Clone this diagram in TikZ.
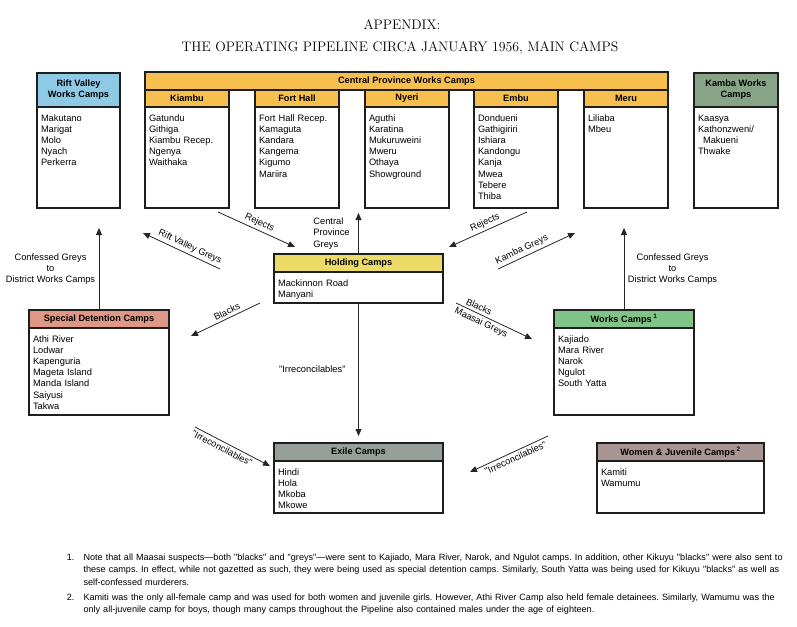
\documentclass[tikz,border=0pt]{standalone}
\usepackage{fontspec}
\newfontfamily\arialfont{Liberation Sans}
\usepackage{tikz}
\usetikzlibrary{arrows.meta,positioning}
\definecolor{RVblue}{HTML}{8EC9E6}
\definecolor{CPorange}{HTML}{F7BF4E}
\definecolor{KAgreen}{HTML}{87A487}
\definecolor{HOyellow}{HTML}{EDDB68}
\definecolor{SDsalmon}{HTML}{DF9885}
\definecolor{WCgreen}{HTML}{80C587}
\definecolor{EXgrey}{HTML}{979F9A}
\definecolor{WJmauve}{HTML}{A89493}
\definecolor{edge}{HTML}{1E1E1E}
\frenchspacing
\tikzset{
  camp/head/.style={draw=edge, line width=1.2pt, inner sep=0pt, outer sep=0pt, anchor=north west, align=center, font=\arialfont\bfseries\fontsize{9.2}{11}\selectfont},
  camp/body/.style={draw=edge, line width=1.2pt, fill=white, inner sep=4pt, outer sep=0pt, align=left, text height=10pt, font=\arialfont\fontsize{9.3}{11.2}\selectfont},
  camp/flow/.style={line width=0.8pt, draw=black!85, -{Triangle[length=7pt,width=6pt]}},
  camp/tag/.style={font=\arialfont\fontsize{9.3}{11.2}\selectfont, inner sep=2.5pt},
  camp/note/.style={font=\arialfont\fontsize{9.1}{12.8}\selectfont, inner sep=0pt, anchor=base west, align=left, text width=730pt},
  camp/title/.style={font=\fontsize{13.8}{16}\selectfont, inner sep=0pt}
}
\begin{document}
\begin{tikzpicture}[x=1pt, y=-1pt]
\useasboundingbox (0,0) rectangle (797,626);

\node[camp/title] (app) at (402,25) {APPENDIX:};
\node[camp/title] (ttl) at (400,48) {THE OPERATING PIPELINE CIRCA JANUARY \oldstylenums{1956}, MAIN CAMPS};

\node[camp/head, fill=RVblue, minimum width=83pt, minimum height=34pt] (rvh) at (37,73) {Rift Valley\\Works Camps};
\node[camp/body, below=0pt of rvh, text width=75pt, text depth=83pt] (rv) {Makutano\\Marigat\\Molo\\Nyach\\Perkerra};

\node[camp/head, fill=CPorange, minimum width=523pt, minimum height=18pt] (cph) at (145,72) {Central Province Works Camps};
\node[camp/head, fill=CPorange, minimum width=84pt, minimum height=17pt] (kih) at (145,90) {Kiambu};
\node[camp/head, fill=CPorange, minimum width=84pt, minimum height=17pt] (fhh) at (255,90) {Fort Hall};
\node[camp/head, fill=CPorange, minimum width=84pt, minimum height=17pt] (nyh) at (365,90) {Nyeri};
\node[camp/head, fill=CPorange, minimum width=84pt, minimum height=17pt] (emh) at (474,90) {Embu};
\node[camp/head, fill=CPorange, minimum width=84pt, minimum height=17pt] (meh) at (584,90) {Meru};
\node[camp/body, below=0pt of kih, text width=76pt, text depth=83pt] (ki) {Gatundu\\Githiga\\Kiambu Recep.\\Ngenya\\Waithaka};
\node[camp/body, below=0pt of fhh, text width=76pt, text depth=83pt] (fh) {Fort Hall Recep.\\Kamaguta\\Kandara\\Kangema\\Kigumo\\Mariira};
\node[camp/body, below=0pt of nyh, text width=76pt, text depth=83pt] (ny) {Aguthi\\Karatina\\Mukuruweini\\Mweru\\Othaya\\Showground};
\node[camp/body, below=0pt of emh, text width=76pt, text depth=83pt] (em) {Dondueni\\Gathigiriri\\Ishiara\\Kandongu\\Kanja\\Mwea\\Tebere\\Thiba};
\node[camp/body, below=0pt of meh, text width=76pt, text depth=83pt] (me) {Liliaba\\Mbeu};

\node[camp/head, fill=KAgreen, minimum width=84pt, minimum height=34pt] (kah) at (694,73) {Kamba Works\\Camps};
\node[camp/body, below=0pt of kah, text width=76pt, text depth=83pt] (ka) {Kaasya\\Kathonzweni/\\\hspace*{5pt}Makueni\\Thwake};

\node[camp/head, fill=HOyellow, minimum width=169pt, minimum height=18pt] (hoh) at (274,254) {Holding Camps};
\node[camp/body, below=0pt of hoh, text width=161pt, text depth=13pt] (ho) {Mackinnon Road\\Manyani};

\node[camp/head, fill=SDsalmon, minimum width=140pt, minimum height=18pt] (sdh) at (29,310) {Special Detention Camps};
\node[camp/body, below=0pt of sdh, text width=132pt, text depth=69pt] (sd) {Athi River\\Lodwar\\Kapenguria\\Mageta Island\\Manda Island\\Saiyusi\\Takwa};

\node[camp/head, fill=WCgreen, minimum width=140pt, minimum height=18pt] (wch) at (554,310) {Works Camps\,\textsuperscript{1}};
\node[camp/body, below=0pt of wch, text width=132pt, text depth=69pt] (wc) {Kajiado\\Mara River\\Narok\\Ngulot\\South Yatta};

\node[camp/head, fill=EXgrey, minimum width=169pt, minimum height=18pt] (exh) at (274,443) {Exile Camps};
\node[camp/body, below=0pt of exh, text width=161pt, text depth=34pt] (ex) {Hindi\\Hola\\Mkoba\\Mkowe};

\node[camp/head, fill=WJmauve, minimum width=167pt, minimum height=18pt] (wjh) at (597,443) {Women \& Juvenile Camps\,\textsuperscript{2}};
\node[camp/body, below=0pt of wjh, text width=159pt, text depth=34pt] (wj) {Kamiti\\Wamumu};

\coordinate (rejLs) at (218,212);
\coordinate (rejLe) at (295,247);
\coordinate (rejRs) at (527,212);
\coordinate (rejRe) at (449,247);
\coordinate (kagS) at (498,269);
\coordinate (kagE) at (575,233);
\coordinate (rvgS) at (220,269);
\coordinate (rvgE) at (143,233);
\coordinate (blkLs) at (260,303);
\coordinate (blkLe) at (191,336);
\coordinate (blkRs) at (456,303);
\coordinate (blkRe) at (532,339);
\coordinate (irrLs) at (195,427);
\coordinate (irrLe) at (270,466);
\coordinate (irrRs) at (548,436);
\coordinate (irrRe) at (470,472);
\coordinate (cpgE) at (358.5,213);
\coordinate (cgLe) at (99,228);
\coordinate (cgRe) at (624,228);
\coordinate (irrE) at (358.5,436);

\draw[camp/flow] (rejLs) -- node[camp/tag, sloped, above, pos=.5] (rejLt) {Rejects} (rejLe);
\draw[camp/flow] (rejRs) -- node[camp/tag, sloped, above, pos=.5] (rejRt) {Rejects} (rejRe);
\draw[camp/flow] (kagS) -- node[camp/tag, sloped, above, pos=.35] (kagt) {Kamba Greys} (kagE);
\draw[camp/flow] (rvgS) -- node[camp/tag, sloped, above, pos=.43] (rvgt) {Rift Valley Greys} (rvgE);
\draw[camp/flow] (blkLs) -- node[camp/tag, sloped, above, pos=.44] (blkLt) {Blacks} (blkLe);
\draw[camp/flow] (blkRs) -- node[camp/tag, sloped, above, pos=.27] (blkRt) {Blacks}
  node[camp/tag, sloped, below, pos=.37] (mgt) {Maasai Greys} (blkRe);
\draw[camp/flow] (irrLs) -- node[camp/tag, sloped, below, pos=.4] (irrLt) {"Irreconcilables"} (irrLe);
\draw[camp/flow] (irrRs) -- node[camp/tag, sloped, below, pos=.45] (irrRt) {"Irreconcilables"} (irrRe);
\draw[camp/flow] (hoh.north) -- node[camp/tag, left=6pt, align=left, pos=.5] (cpgt) {Central\\Province\\Greys} (cpgE);
\draw[camp/flow] (sdh.north) -- node[camp/tag, left=1pt, align=center, pos=.5] (cgLt) {Confessed Greys\\to\\District Works Camps} (cgLe);
\draw[camp/flow] (wch.north) -- node[camp/tag, right=1pt, align=center, pos=.5] (cgRt) {Confessed Greys\\to\\District Works Camps} (cgRe);
\draw[camp/flow] (ho.south) -- node[camp/tag, left=10pt, pos=.5] (irrt) {"Irreconcilables"} (irrE);

\node[camp/note, text width=15pt] (fn1n) at (66.7,560) {1.};
\node[camp/note] (fn1) at (83.3,560) {Note that all Maasai suspects—both "blacks" and "greys"—were sent to Kajiado, Mara River, Narok, and Ngulot camps. In addition, other Kikuyu "blacks" were also sent to\\these camps. In effect, while not gazetted as such, they were being used as special detention camps. Similarly, South Yatta was being used for Kikuyu "blacks" as well as\\self-confessed murderers.};
\node[camp/note, text width=15pt] (fn2n) at (66.7,600) {2.};
\node[camp/note] (fn2) at (83.3,600) {Kamiti was the only all-female camp and was used for both women and juvenile girls. However, Athi River Camp also held female detainees. Similarly, Wamumu was the\\only all-juvenile camp for boys, though many camps throughout the Pipeline also contained males under the age of eighteen.};
\end{tikzpicture}
\end{document}
